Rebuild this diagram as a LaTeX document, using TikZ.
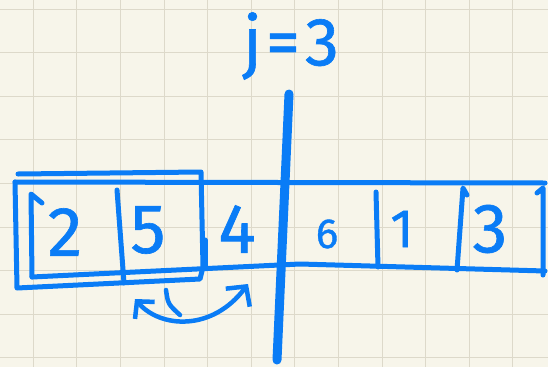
\documentclass[tikz,border=0pt]{standalone}
\usepackage{fontspec}
\setmainfont{Fira Sans}
\newfontfamily\inkfont{Fira Sans}[FakeBold=0.9]
\usetikzlibrary{arrows.meta}
\definecolor{ink}{RGB}{10,124,246}
\definecolor{paper}{RGB}{247,245,234}
\definecolor{rule}{RGB}{221,217,202}

\begin{document}
\begin{tikzpicture}[
    x=1pt, y=-1pt,
    inkline/.style={draw=ink, line width=5pt, line cap=round, line join=round},
    cellnum/.style={text=ink, inner sep=0pt, font=\inkfont\fontsize{70}{70}\selectfont},
    gridline/.style={draw=rule, line width=1pt},
    swap/.style={inkline, line width=4.5pt, {Straight Barb[length=12pt,width=26pt]}-{Straight Barb[length=14pt,width=30pt]}}
  ]
    \fill[paper] (0,0) rectangle (548,367);
    \useasboundingbox (0,0) rectangle (548,367);

    % squared paper
    \foreach \gx in {0,...,11}
      \draw[gridline] ({33.3+43.6*\gx},0) -- ({33.3+43.6*\gx},367);
    \foreach \gy in {0,...,8}
      \draw[gridline] (0,{9+43.6*\gy}) -- (548,{9+43.6*\gy});

    % array outline
    \draw[inkline] (15,182) -- (545,183);
    \draw[inkline] (32,277) -- (300,264) -- (545,271);
    \draw[inkline] (42,203) -- (31,194) -- (32,277);
    \draw[inkline] (117,190) -- (124,283);
    \draw[inkline] (205,240) -- (205,268);
    \draw[inkline] (376,192) -- (378,267);
    \draw[inkline] (467,195) -- (463,188) -- (457,270);
    \draw[inkline] (537,193) -- (543,188) -- (543,275);

    % box round the first two cells
    \draw[inkline] (15,182) -- (17,288) -- (200,279) -- (203,267) -- (201,172) -- (18,174);

    % the cut at j
    \draw[draw=ink, line width=9pt, line cap=round] (289,94) -- (277,360);

    % values
    \node[cellnum] (c1) at (65,232) {2};
    \node[cellnum] (c2) at (148,230) {5};
    \node[cellnum] (c3) at (237,229) {4};
    \node[cellnum, font=\inkfont\fontsize{42}{42}\selectfont] (c4) at (327,234) {6};
    \node[cellnum, font=\inkfont\fontsize{54}{54}\selectfont] (c5) at (402,229) {1};
    \node[cellnum] (c6) at (490,229) {3};

    \node[text=ink, inner sep=0pt, font=\inkfont\fontsize{68}{68}\selectfont] (jlabel) at (291,46) {j\kern4pt=\kern5pt3};

    % swap of 5 and 4
    \coordinate (swapL) at (135,299);
    \coordinate (swapR) at (248,284);
    \draw[swap] (swapL) .. controls (160,328) and (212,332) .. (swapR);
    \draw[inkline, line width=4.5pt] (166,290) .. controls (168,304) .. (180,315);
  \end{tikzpicture}
\end{document}
